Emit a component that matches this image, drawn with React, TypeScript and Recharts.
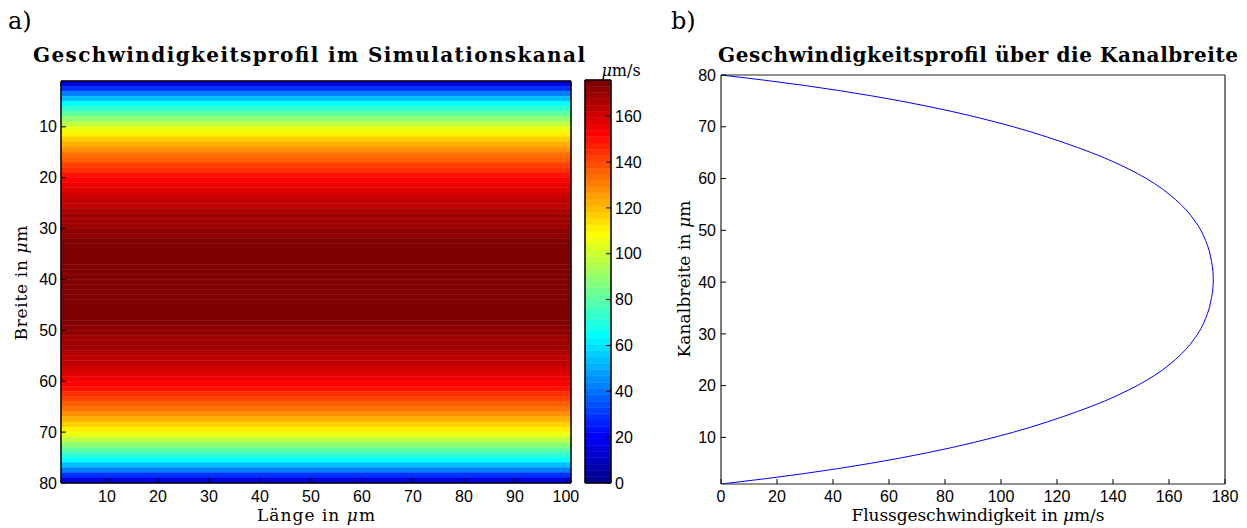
import {
    ComposedChart,
    LineChart,
    Line,
    XAxis,
    YAxis,
    ReferenceArea,
} from "recharts";

// Position über die Kanalbreite in µm (Zeilen des Simulationskanals)
const breite = [
    1, 2, 3, 4, 5, 6, 7, 8, 9, 10, 11, 12, 13, 14, 15, 16, 17, 18, 19, 20,
    21, 22, 23, 24, 25, 26, 27, 28, 29, 30, 31, 32, 33, 34, 35, 36, 37, 38, 39, 40,
    41, 42, 43, 44, 45, 46, 47, 48, 49, 50, 51, 52, 53, 54, 55, 56, 57, 58, 59, 60,
    61, 62, 63, 64, 65, 66, 67, 68, 69, 70, 71, 72, 73, 74, 75, 76, 77, 78, 79, 80,
];

// Flussgeschwindigkeit in µm/s
const geschwindigkeit = [
    0, 15.5, 29.5, 42.1, 53.5, 63.9, 73.4, 82.1, 90.1, 97.5,
    104.4, 110.7, 116.6, 122.1, 127.3, 132.3, 136.9, 141.1, 145, 148.6,
    151.9, 154.9, 157.6, 160, 162.2, 164.2, 166, 167.6, 169, 170.3,
    171.4, 172.3, 173.1, 173.8, 174.4, 174.8, 175.2, 175.5, 175.7, 175.8,
    175.8, 175.7, 175.5, 175.2, 174.8, 174.4, 173.8, 173.1, 172.3, 171.4,
    170.3, 169, 167.6, 166, 164.2, 162.2, 160, 157.6, 154.9, 151.9,
    148.6, 145, 141.1, 136.9, 132.3, 127.3, 122.1, 116.6, 110.7, 104.4,
    97.5, 90.1, 82.1, 73.4, 63.9, 53.5, 42.1, 29.5, 15.5, 0,
];

const laengeTicks = [10, 20, 30, 40, 50, 60, 70, 80, 90, 100];
const breiteTicks = [10, 20, 30, 40, 50, 60, 70, 80];
const farbTicks = [0, 20, 40, 60, 80, 100, 120, 140, 160];
const flussTicks = [0, 20, 40, 60, 80, 100, 120, 140, 160, 180];

const rows = breite.map((y, i) => ({ y, u: geschwindigkeit[i] }));
const cMax = Math.max(...geschwindigkeit);

// MATLAB jet(64)
function jetMap(m: number): string[] {
    const n = Math.ceil(m / 4);
    const u: number[] = [];
    for (let i = 1; i <= n; i++) u.push(i / n);
    for (let i = 1; i < n; i++) u.push(1);
    for (let i = n; i >= 1; i--) u.push(i / n);
    const off = Math.ceil(n / 2) - (m % 4 === 1 ? 1 : 0);
    const rgb = Array.from({ length: m }, () => [0, 0, 0]);
    u.forEach((v, k) => {
        const g = off + k;
        const r = g + n;
        const b = g - n;
        if (r >= 0 && r < m) rgb[r][0] = v;
        if (g >= 0 && g < m) rgb[g][1] = v;
        if (b >= 0 && b < m) rgb[b][2] = v;
    });
    return rgb.map(
        ([r, g, b]) =>
            `rgb(${Math.round(r * 255)},${Math.round(g * 255)},${Math.round(b * 255)})`
    );
}

const jet = jetMap(64);
const colorOf = (v: number) =>
    jet[Math.max(0, Math.min(63, Math.floor((v / cMax) * 64)))];

const tickFont = "'Liberation Sans', Arial, Helvetica, sans-serif";
const serif = "'DejaVu Serif', serif";
const tickStyle = { fill: "#000", fontSize: 16, fontFamily: tickFont };
const axisLine = { stroke: "#000", strokeWidth: 1.5 };
const tickLine = { stroke: "#000", strokeWidth: 1 };

function Heatmap() {
    const cells = breite.slice(0, -1).map((y, i) => ({
        y1: y,
        y2: breite[i + 1],
        v: Math.max(geschwindigkeit[i], geschwindigkeit[i + 1]),
    }));
    return (
        <ComposedChart
            width={600}
            height={528}
            margin={{ top: 80, right: 28, bottom: 15, left: 21 }}
        >
            <XAxis
                xAxisId={0}
                dataKey="x"
                type="number"
                domain={[1, 101]}
                ticks={laengeTicks}
                allowDataOverflow
                height={30}
                tick={tickStyle}
                tickSize={-5}
                tickMargin={13}
                axisLine={axisLine}
                tickLine={tickLine}
            />
            <XAxis
                xAxisId="top"
                orientation="top"
                dataKey="x"
                type="number"
                domain={[1, 101]}
                ticks={laengeTicks}
                allowDataOverflow
                height={1}
                tick={false}
                tickSize={-5}
                axisLine={axisLine}
                tickLine={tickLine}
            />
            <YAxis
                yAxisId={0}
                dataKey="y"
                type="number"
                domain={[1, 80]}
                reversed
                ticks={breiteTicks}
                allowDataOverflow
                width={40}
                tick={tickStyle}
                tickSize={-5}
                tickMargin={9}
                axisLine={axisLine}
                tickLine={tickLine}
            />
            <YAxis
                yAxisId="right"
                orientation="right"
                dataKey="y"
                type="number"
                domain={[1, 80]}
                reversed
                ticks={breiteTicks}
                allowDataOverflow
                width={1}
                tick={false}
                tickSize={-5}
                axisLine={axisLine}
                tickLine={tickLine}
            />
            {cells.map((c, i) => (
                <ReferenceArea
                    key={i}
                    xAxisId={0}
                    yAxisId={0}
                    x1={1}
                    x2={101}
                    y1={c.y1}
                    y2={c.y2}
                    fill={colorOf(c.v)}
                    fillOpacity={1}
                    stroke={colorOf(c.v)}
                    strokeWidth={0.5}
                    ifOverflow="visible"
                />
            ))}
        </ComposedChart>
    );
}

function Colorbar() {
    const levels = jet.map((col, k) => ({
        y1: (k * cMax) / 64,
        y2: ((k + 1) * cMax) / 64,
        col,
    }));
    return (
        <ComposedChart
            width={120}
            height={528}
            margin={{ top: 79, right: 29, bottom: 44, left: 24 }}
        >
            <XAxis xAxisId={0} dataKey="x" type="number" domain={[0, 1]} allowDataOverflow height={1} tick={false} tickLine={false} axisLine={axisLine} />
            <XAxis xAxisId="top" orientation="top" dataKey="x" type="number" domain={[0, 1]} allowDataOverflow height={1} tick={false} tickLine={false} axisLine={axisLine} />
            <YAxis yAxisId="left" dataKey="v" type="number" domain={[0, cMax]} allowDataOverflow width={1} tick={false} tickLine={false} axisLine={axisLine} />
            <YAxis
                yAxisId={0}
                orientation="right"
                dataKey="v"
                type="number"
                domain={[0, cMax]}
                ticks={farbTicks}
                allowDataOverflow
                width={40}
                tick={{ ...tickStyle, textAnchor: "start" }}
                tickSize={-5}
                tickMargin={9}
                axisLine={axisLine}
                tickLine={tickLine}
            />
            {levels.map((l, k) => (
                <ReferenceArea
                    key={k}
                    xAxisId={0}
                    yAxisId={0}
                    x1={0}
                    x2={1}
                    y1={l.y1}
                    y2={l.y2}
                    fill={l.col}
                    fillOpacity={1}
                    stroke={l.col}
                    strokeWidth={0.5}
                    ifOverflow="visible"
                />
            ))}
        </ComposedChart>
    );
}

function Profil() {
    const bAxis = { stroke: "#222", strokeWidth: 1.2 };
    return (
        <LineChart
            width={587}
            height={528}
            data={rows}
            margin={{ top: 74, right: 21, bottom: 14, left: 21 }}
        >
            <XAxis
                xAxisId={0}
                dataKey="u"
                type="number"
                domain={[0, 180]}
                ticks={flussTicks}
                allowDataOverflow
                height={30}
                tick={tickStyle}
                tickSize={-5}
                tickMargin={12}
                axisLine={bAxis}
                tickLine={tickLine}
            />
            <XAxis
                xAxisId="top"
                orientation="top"
                dataKey="u"
                type="number"
                domain={[0, 180]}
                ticks={flussTicks}
                allowDataOverflow
                height={1}
                tick={false}
                tickSize={-5}
                axisLine={bAxis}
                tickLine={tickLine}
            />
            <YAxis
                yAxisId={0}
                type="number"
                domain={[1, 80]}
                ticks={breiteTicks}
                allowDataOverflow
                width={40}
                tick={tickStyle}
                tickSize={-5}
                tickMargin={10}
                axisLine={bAxis}
                tickLine={tickLine}
            />
            <YAxis
                yAxisId="right"
                orientation="right"
                type="number"
                domain={[1, 80]}
                ticks={breiteTicks}
                allowDataOverflow
                width={1}
                tick={false}
                tickSize={-5}
                axisLine={bAxis}
                tickLine={tickLine}
            />
            <Line
                xAxisId="top"
                yAxisId="right"
                type="linear"
                dataKey="y"
                stroke="none"
                dot={false}
                isAnimationActive={false}
            />
            <Line
                xAxisId={0}
                yAxisId={0}
                type="linear"
                dataKey="y"
                stroke="#0000ff"
                strokeWidth={1}
                dot={false}
                isAnimationActive={false}
            />
        </LineChart>
    );
}

const mu = <tspan fontStyle="italic">μ</tspan>;

export default function App() {
    return (
        <div
            style={{
                position: "absolute",
                left: 0,
                top: 0,
                width: 1247,
                height: 528,
                background: "#fff",
            }}
        >
            <div style={{ position: "absolute", left: 0, top: 0 }}>
                <Heatmap />
            </div>
            <div style={{ position: "absolute", left: 560, top: 0 }}>
                <Colorbar />
            </div>
            <div style={{ position: "absolute", left: 660, top: 0 }}>
                <Profil />
            </div>
            <svg
                width={1247}
                height={528}
                style={{ position: "absolute", left: 0, top: 0, pointerEvents: "none" }}
                fontFamily={serif}
                fill="#000"
            >
                <text x={8} y={29} fontSize={24}>a)</text>
                <text x={671} y={29} fontSize={24}>b)</text>
                <text x={309} y={62} fontSize={20} fontWeight="bold" textAnchor="middle" textLength={552} lengthAdjust="spacing">
                    Geschwindigkeitsprofil im Simulationskanal
                </text>
                <text x={978} y={62} fontSize={20} fontWeight="bold" textAnchor="middle" textLength={520} lengthAdjust="spacing">
                    Geschwindigkeitsprofil über die Kanalbreite
                </text>
                <text x={621} y={76} fontSize={16} textAnchor="middle">
                    {mu}m/s
                </text>
                <text x={316} y={521} fontSize={17} textAnchor="middle" textLength={118} lengthAdjust="spacing">
                    Länge in {mu}m
                </text>
                <text x={978} y={521} fontSize={17} textAnchor="middle" textLength={253} lengthAdjust="spacing">
                    Flussgeschwindigkeit in {mu}m/s
                </text>
                <text x={27} y={283} fontSize={17} textAnchor="middle" textLength={115} lengthAdjust="spacing" transform="rotate(-90 27 283)">
                    Breite in {mu}m
                </text>
                <text x={690} y={279} fontSize={17} textAnchor="middle" textLength={157} lengthAdjust="spacing" transform="rotate(-90 690 279)">
                    Kanalbreite in {mu}m
                </text>
            </svg>
        </div>
    );
}
